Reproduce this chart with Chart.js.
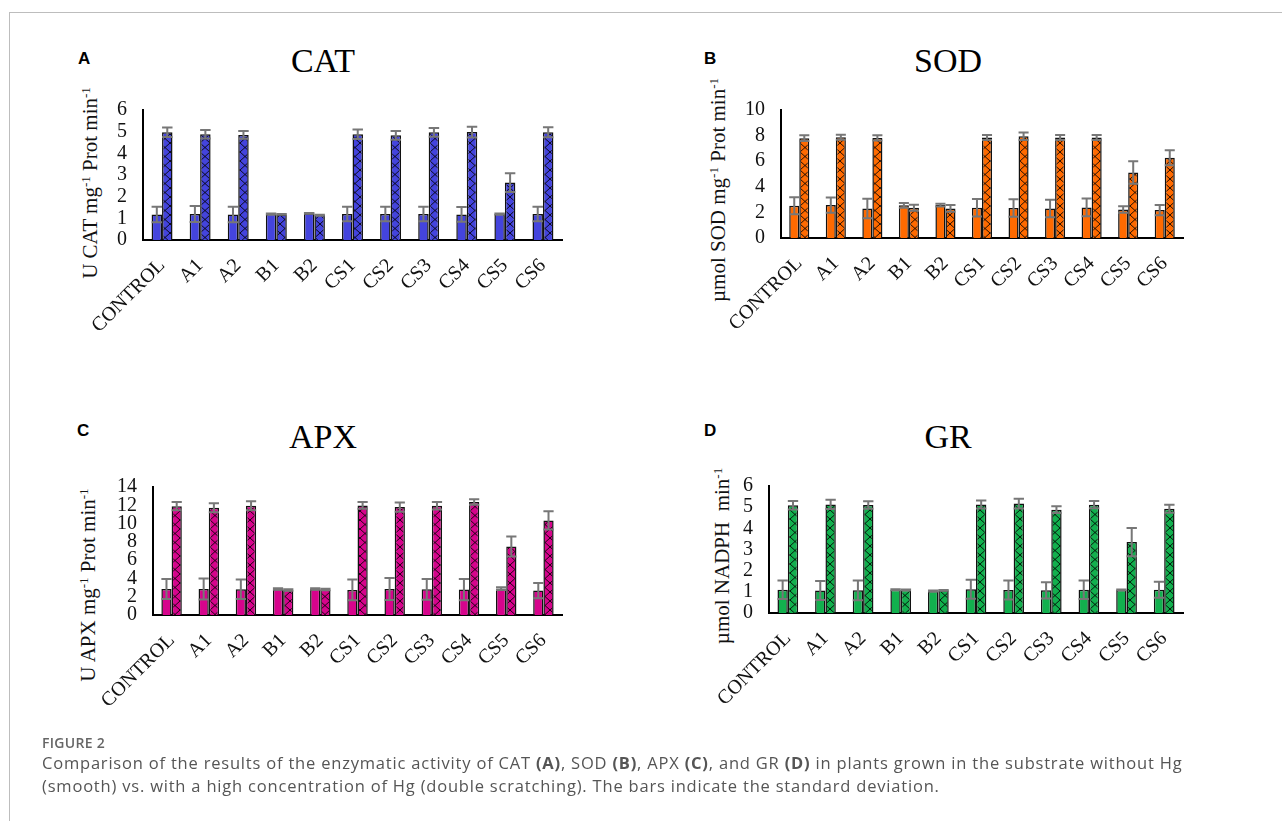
<!DOCTYPE html>
<html>
<head>
<meta charset="utf-8">
<script src="https://cdn.jsdelivr.net/npm/chart.js@4.4.1/dist/chart.umd.min.js"></script>
<style>
  body { margin: 0; background: #fff; }
  #page { position: relative; width: 1282px; height: 821px; overflow: hidden; }
  #frame { position: absolute; left: 9px; top: 12px; right: -5px; bottom: -5px;
           border-top: 1px solid #bdbdbd; border-left: 1px solid #bdbdbd; }
  canvas { position: absolute; }
  .letter { position: absolute; font: bold 17px "Liberation Sans", Arial, sans-serif; color: #000; }
  .title { position: absolute; width: 200px; text-align: center; font: 34px "Liberation Serif", serif; color: #000; }
  .ytitle { position: absolute; width: 300px; height: 24px; margin-left: -150px; margin-top: -12px;
            text-align: center; white-space: nowrap; transform: rotate(-90deg);
            font: 21px "Liberation Serif", serif; color: #111; line-height: 24px; }
  .ytitle sup { font-size: 13px; vertical-align: 7px; line-height: 0; }
  #figlabel { position: absolute; left: 42px; top: 733px; font: 600 14px "Open Sans", sans-serif;
              color: #666; letter-spacing: 0.3px; }
  #caption { position: absolute; left: 42px; top: 751px; font: 16.5px "Open Sans", sans-serif; color: #555;
             line-height: 23px; letter-spacing: 0.8px; white-space: nowrap; }
</style>
</head>
<body>
<div id="page">
  <div id="frame"></div>
  <div class="letter" style="left:78px;top:49px">A</div>
  <div class="letter" style="left:704px;top:49px">B</div>
  <div class="letter" style="left:77px;top:421px">C</div>
  <div class="letter" style="left:704px;top:421px">D</div>
  <div class="title" style="left:223px;top:42px">CAT</div>
  <div class="title" style="left:848px;top:42px">SOD</div>
  <div class="title" style="left:223px;top:418px">APX</div>
  <div class="title" style="left:848px;top:418px">GR</div>
  <div class="ytitle" style="left:90px;top:183px">U CAT mg<sup>-1</sup> Prot min<sup>-1</sup></div>
  <div class="ytitle" style="left:718px;top:190px">&micro;mol SOD mg<sup>-1</sup> Prot min<sup>-1</sup></div>
  <div class="ytitle" style="left:88px;top:585px">U APX mg<sup>-1</sup> Prot min<sup>-1</sup></div>
  <div class="ytitle" style="left:722px;top:556px">&micro;mol NADPH&nbsp; min<sup>-1</sup></div>
  <canvas id="cat"></canvas>
  <canvas id="sod"></canvas>
  <canvas id="apx"></canvas>
  <canvas id="gr"></canvas>
  <div id="figlabel">FIGURE 2</div>
  <div id="caption">Comparison of the results of the enzymatic activity of CAT <b>(A)</b>, SOD <b>(B)</b>, APX <b>(C)</b>, and GR <b>(D)</b> in plants grown in the substrate without Hg<br>(smooth) vs. with a high concentration of Hg (double scratching). The bars indicate the standard deviation.</div>
</div>
<script>
const categories = ['CONTROL', 'A1', 'A2', 'B1', 'B2', 'CS1', 'CS2', 'CS3', 'CS4', 'CS5', 'CS6'];

// CAT (A)
const catSmooth   = [1.18, 1.20, 1.18, 1.20, 1.23, 1.20, 1.20, 1.20, 1.18, 1.20, 1.20];
const catSmoothSd = [0.36, 0.37, 0.36, 0.02, 0.02, 0.34, 0.34, 0.34, 0.34, 0.02, 0.34];
const catHg       = [4.97, 4.88, 4.85, 1.18, 1.15, 4.88, 4.83, 4.97, 4.98, 2.65, 4.97];
const catHgSd     = [0.22, 0.20, 0.18, 0.02, 0.02, 0.22, 0.20, 0.20, 0.25, 0.43, 0.23];
const catTicks    = [0, 1, 2, 3, 4, 5, 6];

// SOD (B)
const sodSmooth   = [2.52, 2.57, 2.31, 2.55, 2.57, 2.36, 2.34, 2.31, 2.39, 2.23, 2.18];
const sodSmoothSd = [0.66, 0.60, 0.76, 0.18, 0.10, 0.68, 0.68, 0.68, 0.70, 0.26, 0.40];
const sodHg       = [7.80, 7.87, 7.82, 2.36, 2.31, 7.85, 7.95, 7.85, 7.85, 5.12, 6.27];
const sodHgSd     = [0.22, 0.20, 0.20, 0.24, 0.26, 0.20, 0.29, 0.20, 0.20, 0.88, 0.58];
const sodTicks    = [0, 2, 4, 6, 8, 10];

// APX (C)
const apxSmooth   = [2.85, 2.85, 2.81, 2.85, 2.85, 2.74, 2.85, 2.81, 2.78, 2.89, 2.67];
const apxSmoothSd = [1.10, 1.15, 1.06, 0.08, 0.08, 1.13, 1.20, 1.14, 1.17, 0.15, 0.84];
const apxHg       = [11.90, 11.73, 11.95, 2.74, 2.78, 11.99, 11.80, 11.95, 12.35, 7.49, 10.34];
const apxHgSd     = [0.45, 0.50, 0.48, 0.08, 0.08, 0.38, 0.50, 0.40, 0.30, 1.10, 1.00];
const apxTicks    = [0, 2, 4, 6, 8, 10, 12, 14];

// GR (D)
const grSmooth    = [1.10, 1.06, 1.07, 1.10, 1.04, 1.12, 1.09, 1.07, 1.10, 1.09, 1.10];
const grSmoothSd  = [0.44, 0.45, 0.47, 0.02, 0.02, 0.45, 0.45, 0.38, 0.44, 0.02, 0.38];
const grHg        = [5.09, 5.13, 5.10, 1.09, 1.07, 5.13, 5.17, 4.88, 5.12, 3.35, 4.93];
const grHgSd      = [0.20, 0.22, 0.18, 0.02, 0.02, 0.19, 0.23, 0.16, 0.17, 0.67, 0.19];
const grTicks     = [0, 1, 2, 3, 4, 5, 6];

// standard deviation whiskers, drawn through the y scale
const errorBars = {
  id: 'errorBars',
  afterDatasetsDraw(chart) {
    const { ctx, scales: { y } } = chart;
    ctx.save();
    ctx.strokeStyle = '#777';
    ctx.lineWidth = 2;
    chart.data.datasets.forEach((ds, i) => {
      chart.getDatasetMeta(i).data.forEach((bar, j) => {
        const top = y.getPixelForValue(ds.data[j] + ds.sd[j]);
        const bot = y.getPixelForValue(ds.data[j] - ds.sd[j]);
        const hw = bar.width / 2;
        ctx.beginPath();
        ctx.moveTo(bar.x, top); ctx.lineTo(bar.x, bot);
        ctx.moveTo(bar.x - hw, top); ctx.lineTo(bar.x + hw, top);
        ctx.moveTo(bar.x - hw, bot); ctx.lineTo(bar.x + hw, bot);
        ctx.stroke();
      });
    });
    ctx.restore();
  }
};

function hatch(color) {
  const c = document.createElement('canvas');
  c.width = 10; c.height = 9;
  const g = c.getContext('2d');
  g.fillStyle = color;
  g.fillRect(0, 0, 10, 9);
  g.strokeStyle = 'rgba(0,0,0,0.85)';
  g.lineWidth = 1;
  g.beginPath();
  g.moveTo(0, 0); g.lineTo(10, 9);
  g.moveTo(10, 0); g.lineTo(0, 9);
  g.stroke();
  return g.createPattern(c, 'repeat');
}

const serif = 'Liberation Serif';

// box.top = wanted top of the plot area; canvas starts 30px above it
function panel(id, box, smooth, smoothSd, hg, hgSd, ticks, color) {
  const cv = document.getElementById(id);
  const canvasTop = box.top - 30;
  cv.width = box.w; cv.height = box.bottom + box.xh - canvasTop;
  cv.style.left = box.x + 'px'; cv.style.top = canvasTop + 'px';
  new Chart(cv, {
    type: 'bar',
    data: {
      labels: categories,
      datasets: [
        { label: 'without Hg', data: smooth, sd: smoothSd, backgroundColor: color,
          borderColor: '#111', borderWidth: 1.5 },
        { label: 'high Hg', data: hg, sd: hgSd, backgroundColor: hatch(color),
          borderColor: '#111', borderWidth: 1.5 }
      ]
    },
    options: {
      responsive: false,
      animation: false,
      events: [],
      layout: { padding: { top: 30, right: box.padR, left: 0, bottom: 0 } },
      datasets: { bar: { categoryPercentage: 0.55, barPercentage: 1 } },
      plugins: { legend: { display: false }, tooltip: { enabled: false } },
      scales: {
        x: {
          grid: { display: false, drawTicks: false },
          border: { display: true, color: '#000', width: 2 },
          ticks: { color: '#111', font: { family: serif, size: 20 }, minRotation: 45, maxRotation: 45,
                   autoSkip: false, padding: 14 },
          afterFit(s) { s.height = box.xh; }
        },
        y: {
          min: ticks[0],
          max: ticks[ticks.length - 1],
          grid: { display: false, drawTicks: false },
          border: { display: true, color: '#000', width: 2 },
          ticks: { stepSize: ticks[1] - ticks[0], autoSkip: false, color: '#111',
                   font: { family: serif, size: 20 }, padding: 16 },
          afterFit(s) { s.width = box.yw; }
        }
      }
    },
    plugins: [errorBars]
  });
}

panel('cat', { x: 60, top: 110, bottom: 240, w: 526, yw: 83, xh: 120, padR: 24 },
      catSmooth, catSmoothSd, catHg, catHgSd, catTicks, '#4444DD');
panel('sod', { x: 690, top: 110, bottom: 238, w: 520, yw: 91, xh: 122, padR: 27 },
      sodSmooth, sodSmoothSd, sodHg, sodHgSd, sodTicks, '#FF6A00');
panel('apx', { x: 60, top: 487, bottom: 615, w: 526, yw: 93, xh: 122, padR: 24 },
      apxSmooth, apxSmoothSd, apxHg, apxHgSd, apxTicks, '#D6048C');
panel('gr', { x: 690, top: 486, bottom: 613, w: 520, yw: 79, xh: 123, padR: 27 },
      grSmooth, grSmoothSd, grHg, grHgSd, grTicks, '#12B04E');
</script>
</body>
</html>
